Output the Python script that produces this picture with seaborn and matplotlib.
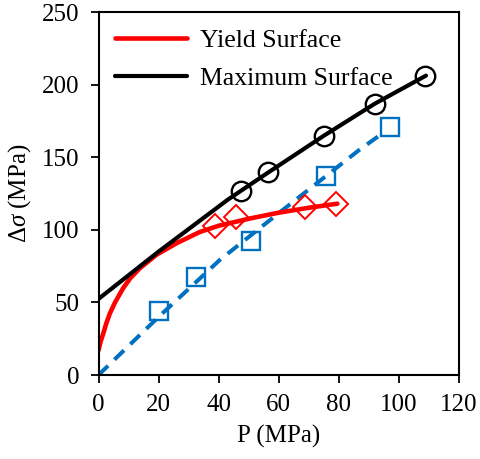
import matplotlib
matplotlib.use("Agg")
import matplotlib.pyplot as plt
import seaborn as sns

# ---- data ----
yield_p = [0, 0.7, 1.6, 2.5, 3.8, 5.5, 8.2, 10.5, 13.8, 19.3, 26.0, 33.7, 40.0, 50.4, 60.0, 70.0, 79.5]
yield_s = [17, 23, 28.7, 35, 42.5, 50, 59.8, 66.5, 73.6, 82.8, 90.8, 98.5, 102.8, 107.8, 111.8, 115.2, 118.0]

max_p = [0, 20, 43, 47.5, 56.5, 75, 92, 109]
max_s = [52.4, 85, 120.7, 127, 139.5, 164.8, 186.9, 206.2]

blue_p = [0, 20, 40.4, 60, 86.9, 94.7]
blue_s = [0, 40, 79.3, 111.5, 155.2, 166.7]

circles_p = [47.3, 56.5, 74.9, 92.1, 108.7]
circles_s = [127.0, 139.8, 164.8, 186.5, 206.2]

squares_p = [20.0, 32.6, 50.9, 75.6, 96.9]
squares_s = [44.0, 67.3, 92.6, 137.2, 170.6]

diamonds_p = [38.9, 45.9, 68.6, 79.2]
diamonds_s = [102.6, 108.5, 115.6, 118.0]

x_ticks = [0, 20, 40, 60, 80, 100, 120]
y_ticks = [0, 50, 100, 150, 200, 250]

sns.set_style("white")
plt.rcParams["font.family"] = ["Liberation Serif", "DejaVu Serif"]
plt.rcParams["mathtext.fontset"] = "custom"
plt.rcParams["mathtext.rm"] = "Liberation Serif"
plt.rcParams["mathtext.it"] = "Liberation Serif:italic"
plt.rcParams["text.color"] = "black"
plt.rcParams["axes.labelcolor"] = "black"
plt.rcParams["xtick.color"] = "black"
plt.rcParams["ytick.color"] = "black"

fig = plt.figure(figsize=(4.81, 4.59), dpi=100)
ax = fig.add_axes([0.2048, 0.183, 0.7495, 0.7908])

RED = "#FF0000"
BLUE = "#0070C0"

sns.lineplot(x=blue_p, y=blue_s, ax=ax, color=BLUE, lw=2.9,
             linestyle=(0, (3.3, 2.2)), sort=False, legend=False)
sns.lineplot(x=yield_p, y=yield_s, ax=ax, color=RED, lw=3.3, sort=False,
             label="Yield Surface")
sns.lineplot(x=max_p, y=max_s, ax=ax, color="black", lw=3.0, sort=False,
             label="Maximum Surface")

sns.lineplot(x=squares_p, y=squares_s, ax=ax, linestyle="none", marker="s",
             markersize=13.5, markerfacecolor="none", markeredgecolor=BLUE,
             markeredgewidth=1.7, color=BLUE, legend=False)
sns.lineplot(x=diamonds_p, y=diamonds_s, ax=ax, linestyle="none", marker="D",
             markersize=12.5, markerfacecolor="none", markeredgecolor=RED,
             markeredgewidth=1.4, color=RED, legend=False)
sns.lineplot(x=circles_p, y=circles_s, ax=ax, linestyle="none", marker="o",
             markersize=14, markerfacecolor="none", markeredgecolor="black",
             markeredgewidth=1.7, color="black", legend=False)

ax.set_xlim(0, 120)
ax.set_ylim(0, 250)
ax.set_xticks(x_ticks)
ax.set_yticks(y_ticks)
ax.tick_params(axis="both", which="both", direction="out", length=6, width=1.3,
               labelsize=18, left=True, bottom=True, top=False, right=False)
ax.tick_params(axis="x", pad=8)
ax.tick_params(axis="y", pad=8)
for sp in ax.spines.values():
    sp.set_linewidth(1.5)
    sp.set_color("black")

ax.set_xlabel("P (MPa)", fontsize=18, labelpad=6)
ax.set_ylabel(r"$\Delta\sigma$ (MPa)", fontsize=18, labelpad=6)

handles, labels = ax.get_legend_handles_labels()
leg = ax.legend(handles[:2], labels[:2], loc="upper left", frameon=False,
                fontsize=18.5, handlelength=2.8, handletextpad=0.5,
                labelspacing=0.6, borderaxespad=0.2, borderpad=0.45)

fig.savefig("out.png", dpi=100)
